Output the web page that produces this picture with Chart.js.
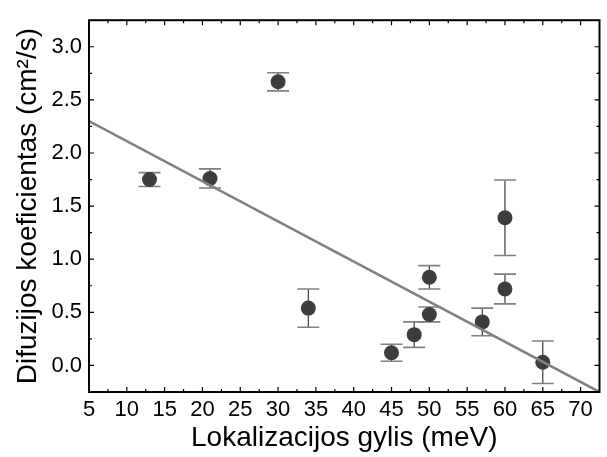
<!DOCTYPE html>
<html>
<head>
<meta charset="utf-8">
<script src="https://cdn.jsdelivr.net/npm/chart.js@4.4.1/dist/chart.umd.min.js"></script>
<style>
  html, body { margin: 0; padding: 0; background: #fff; }
  canvas { display: block; }
</style>
</head>
<body>
<canvas id="c" width="607" height="457"></canvas>
<script>
// ---- data ----
const depth = [13, 21, 30, 34, 45, 48, 50, 50, 57, 60, 60, 65];            // meV
const diffCoef = [1.75, 1.76, 2.67, 0.54, 0.12, 0.29, 0.48, 0.83, 0.41, 1.39, 0.72, 0.03]; // cm^2/s
const diffErr = [0.065, 0.09, 0.085, 0.18, 0.08, 0.12, 0.07, 0.11, 0.13, 0.355, 0.14, 0.2];
const fitX = [5, 72.5];
const fitY = [2.30, -0.25];
const xTicks = [5, 10, 15, 20, 25, 30, 35, 40, 45, 50, 55, 60, 65, 70];
const yTicks = [0.0, 0.5, 1.0, 1.5, 2.0, 2.5, 3.0];
const xRange = [5, 72.5];
const yRange = [-0.25, 3.25];
const xTitle = 'Lokalizacijos gylis (meV)';
const yTitle = 'Difuzijos koeficientas (cm\u00B2/s)';

const FONT = "'Liberation Sans', Arial, sans-serif";

const pointData = depth.map((x, i) => ({ x: x, y: diffCoef[i] }));
const fitData = fitX.map((x, i) => ({ x: x, y: fitY[i] }));

const errorBars = {
  id: 'errorBars',
  beforeDatasetsDraw(chart) {
    const ctx = chart.ctx, xs = chart.scales.x, ys = chart.scales.y;
    ctx.save();
    for (let i = 0; i < depth.length; i++) {
      const px = xs.getPixelForValue(depth[i]);
      const pt = ys.getPixelForValue(diffCoef[i] + diffErr[i]);
      const pb = ys.getPixelForValue(diffCoef[i] - diffErr[i]);
      ctx.strokeStyle = '#3a3a3a';
      ctx.lineWidth = 1.2;
      ctx.beginPath(); ctx.moveTo(px, pt); ctx.lineTo(px, pb); ctx.stroke();
      ctx.strokeStyle = '#808080';
      ctx.lineWidth = 1.6;
      ctx.beginPath();
      ctx.moveTo(px - 11, pt); ctx.lineTo(px + 11, pt);
      ctx.moveTo(px - 11, pb); ctx.lineTo(px + 11, pb);
      ctx.stroke();
    }
    ctx.restore();
  }
};

const frameTicks = {
  id: 'frameTicks',
  afterDraw(chart) {
    const ctx = chart.ctx, a = chart.chartArea, xs = chart.scales.x, ys = chart.scales.y;
    ctx.save();
    ctx.strokeStyle = '#000';
    ctx.lineWidth = 1.2;
    const major = 5, minor = 3;
    ctx.beginPath();
    xTicks.forEach((v, i) => {
      const p = xs.getPixelForValue(v);
      ctx.moveTo(p, a.bottom); ctx.lineTo(p, a.bottom - major);
      ctx.moveTo(p, a.top); ctx.lineTo(p, a.top + major);
      const m = v + (xTicks[1] - xTicks[0]) / 2;
      if (m < xRange[1]) {
        const q = xs.getPixelForValue(m);
        ctx.moveTo(q, a.bottom); ctx.lineTo(q, a.bottom - minor);
        ctx.moveTo(q, a.top); ctx.lineTo(q, a.top + minor);
      }
    });
    yTicks.forEach((v) => {
      const p = ys.getPixelForValue(v);
      ctx.moveTo(a.left, p); ctx.lineTo(a.left + major, p);
      ctx.moveTo(a.right, p); ctx.lineTo(a.right - major, p);
      const m = v + (yTicks[1] - yTicks[0]) / 2;
      if (m < yRange[1]) {
        const q = ys.getPixelForValue(m);
        ctx.moveTo(a.left, q); ctx.lineTo(a.left + minor, q);
        ctx.moveTo(a.right, q); ctx.lineTo(a.right - minor, q);
      }
    });
    ctx.stroke();
    ctx.lineWidth = 2;
    ctx.strokeRect(a.left, a.top, a.right - a.left, a.bottom - a.top);
    ctx.restore();
  }
};

new Chart(document.getElementById('c'), {
  type: 'scatter',
  data: {
    datasets: [
      {
        label: 'fit',
        data: fitData,
        showLine: true,
        borderColor: '#808080',
        borderWidth: 2.5,
        pointRadius: 0,
        pointHoverRadius: 0,
        fill: false,
        order: 0
      },
      {
        label: 'D',
        data: pointData,
        pointRadius: 7.5,
        pointHoverRadius: 7.5,
        backgroundColor: '#3d3d3d',
        borderColor: '#3d3d3d',
        borderWidth: 0,
        order: 1
      }
    ]
  },
  options: {
    responsive: false,
    animation: false,
    events: [],
    layout: { padding: { left: 0, top: 7.5, right: 6, bottom: 0 } },
    plugins: { legend: { display: false }, tooltip: { enabled: false } },
    scales: {
      x: {
        type: 'linear',
        position: 'bottom',
        min: xRange[0], max: xRange[1],
        afterBuildTicks(s) { s.ticks = xTicks.map(v => ({ value: v })); },
        afterFit(s) { s.height = 65; },
        grid: { display: false, drawTicks: false },
        border: { display: false },
        ticks: {
          color: '#000', padding: 5, maxRotation: 0, autoSkip: false,
          font: { family: FONT, size: 22 },
          callback: (v) => String(v)
        },
        title: {
          display: true, text: xTitle, color: '#000',
          font: { family: FONT, size: 28 },
          padding: { top: 0, bottom: 2 }
        }
      },
      y: {
        type: 'linear',
        min: yRange[0], max: yRange[1],
        afterBuildTicks(s) { s.ticks = yTicks.map(v => ({ value: v })); },
        afterFit(s) { s.width = 89; },
        grid: { display: false, drawTicks: false },
        border: { display: false },
        ticks: {
          color: '#000', padding: 7, autoSkip: false,
          font: { family: FONT, size: 22 },
          callback: (v) => Number(v).toFixed(1)
        },
        title: {
          display: true, text: yTitle, color: '#000',
          font: { family: FONT, size: 28 },
          padding: { top: 11, bottom: 0 }
        }
      }
    }
  },
  plugins: [errorBars, frameTicks]
});
</script>
</body>
</html>
